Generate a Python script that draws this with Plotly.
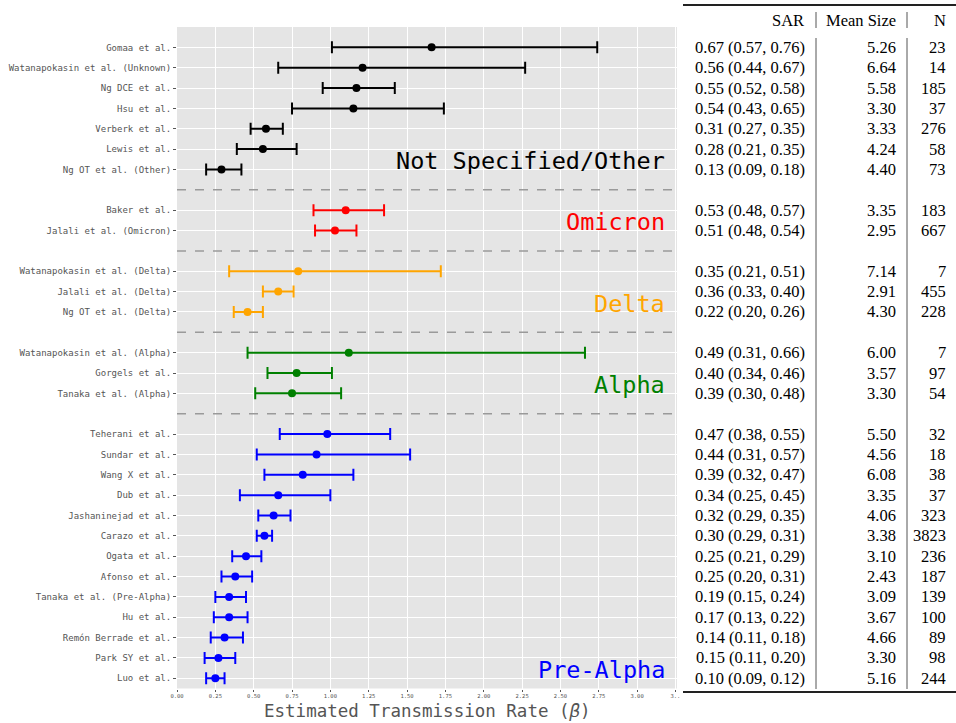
import plotly.graph_objects as go

# ---- study-level estimates -------------------------------------------------
studies = [
    "Gomaa et al.", "Watanapokasin et al. (Unknown)", "Ng DCE et al.", "Hsu et al.",
    "Verberk et al.", "Lewis et al.", "Ng OT et al. (Other)",
    "Baker et al.", "Jalali et al. (Omicron)",
    "Watanapokasin et al. (Delta)", "Jalali et al. (Delta)", "Ng OT et al. (Delta)",
    "Watanapokasin et al. (Alpha)", "Gorgels et al.", "Tanaka et al. (Alpha)",
    "Teherani et al.", "Sundar et al.", "Wang X et al.", "Dub et al.",
    "Jashaninejad et al.", "Carazo et al.", "Ogata et al.", "Afonso et al.",
    "Tanaka et al. (Pre-Alpha)", "Hu et al.", "Remón Berrade et al.",
    "Park SY et al.", "Luo et al.",
]
variant = (["Not Specified/Other"] * 7 + ["Omicron"] * 2 + ["Delta"] * 3
           + ["Alpha"] * 3 + ["Pre-Alpha"] * 13)

beta = [1.66, 1.21, 1.17, 1.15, 0.58, 0.56, 0.29,
        1.10, 1.03,
        0.79, 0.66, 0.46,
        1.12, 0.78, 0.75,
        0.98, 0.91, 0.82, 0.66, 0.63, 0.57, 0.45, 0.38, 0.34, 0.34, 0.31, 0.27, 0.25]
beta_lo = [1.01, 0.66, 0.95, 0.75, 0.48, 0.39, 0.19,
           0.89, 0.90,
           0.34, 0.56, 0.37,
           0.46, 0.59, 0.51,
           0.67, 0.52, 0.57, 0.41, 0.53, 0.52, 0.36, 0.29, 0.25, 0.24, 0.22, 0.18, 0.19]
beta_hi = [2.74, 2.27, 1.42, 1.74, 0.69, 0.78, 0.42,
           1.35, 1.17,
           1.72, 0.76, 0.56,
           2.66, 1.01, 1.07,
           1.39, 1.52, 1.15, 1.00, 0.74, 0.62, 0.55, 0.49, 0.45, 0.46, 0.43, 0.38, 0.31]

sar = ["0.67 (0.57, 0.76)", "0.56 (0.44, 0.67)", "0.55 (0.52, 0.58)", "0.54 (0.43, 0.65)",
       "0.31 (0.27, 0.35)", "0.28 (0.21, 0.35)", "0.13 (0.09, 0.18)",
       "0.53 (0.48, 0.57)", "0.51 (0.48, 0.54)",
       "0.35 (0.21, 0.51)", "0.36 (0.33, 0.40)", "0.22 (0.20, 0.26)",
       "0.49 (0.31, 0.66)", "0.40 (0.34, 0.46)", "0.39 (0.30, 0.48)",
       "0.47 (0.38, 0.55)", "0.44 (0.31, 0.57)", "0.39 (0.32, 0.47)", "0.34 (0.25, 0.45)",
       "0.32 (0.29, 0.35)", "0.30 (0.29, 0.31)", "0.25 (0.21, 0.29)", "0.25 (0.20, 0.31)",
       "0.19 (0.15, 0.24)", "0.17 (0.13, 0.22)", "0.14 (0.11, 0.18)", "0.15 (0.11, 0.20)",
       "0.10 (0.09, 0.12)"]
mean_size = ["5.26", "6.64", "5.58", "3.30", "3.33", "4.24", "4.40",
             "3.35", "2.95",
             "7.14", "2.91", "4.30",
             "6.00", "3.57", "3.30",
             "5.50", "4.56", "6.08", "3.35", "4.06", "3.38", "3.10", "2.43",
             "3.09", "3.67", "4.66", "3.30", "5.16"]
n_hh = ["23", "14", "185", "37", "276", "58", "73",
        "183", "667",
        "7", "455", "228",
        "7", "97", "54",
        "32", "18", "38", "37", "323", "3823", "236", "187",
        "139", "100", "89", "98", "244"]

group_order = ["Not Specified/Other", "Omicron", "Delta", "Alpha", "Pre-Alpha"]
group_colors = {"Not Specified/Other": "#000000", "Omicron": "#ff0000",
                "Delta": "#ffa500", "Alpha": "#008000", "Pre-Alpha": "#0000ff"}

x_ticks = [i * 0.25 for i in range(14)]
x_ticktext = [f"{v:.2f}" for v in x_ticks[:-1]] + ["3.."]

# ---- row layout: one slot per study, a blank slot between variant groups ----
pos, separators = [], []
slot = 0
for i, g in enumerate(variant):
    if i > 0 and g != variant[i - 1]:
        separators.append(slot)
        slot += 1
    pos.append(slot)
    slot += 1

W, H = 956, 723
PLOT_L, PLOT_R, PLOT_T, PLOT_B = 177, 677, 27, 688.5


def px(x):
    return x / W


def py(y):
    return 1 - y / H


fig = go.Figure()

for g in group_order:
    idx = [i for i, v in enumerate(variant) if v == g]
    fig.add_trace(go.Scatter(
        x=[beta[i] for i in idx],
        y=[pos[i] for i in idx],
        mode="markers",
        marker=dict(color=group_colors[g], size=8),
        error_x=dict(type="data", symmetric=False,
                     array=[beta_hi[i] - beta[i] for i in idx],
                     arrayminus=[beta[i] - beta_lo[i] for i in idx],
                     color=group_colors[g], thickness=2, width=6),
        showlegend=False,
        hoverinfo="skip",
    ))

shapes = []
for s in separators:
    shapes.append(dict(type="line", xref="x domain", yref="y", x0=0, x1=1, y0=s, y1=s,
                       line=dict(color="#9a9a9a", width=1.5, dash="dash"), layer="above"))

annotations = []
# variant group names inside the plot, right-aligned
for g in group_order:
    last = max(pos[i] for i, v in enumerate(variant) if v == g)
    annotations.append(dict(xref="x domain", yref="y", x=0.98, y=last - 0.4,
                            xanchor="right", yanchor="middle", showarrow=False,
                            text=g, font=dict(family="DejaVu Sans Mono", size=23.5,
                                              color=group_colors[g])))

# axis title
annotations.append(dict(xref="paper", yref="paper", x=px((PLOT_L + PLOT_R) / 2), y=py(711),
                        xanchor="center", yanchor="middle", showarrow=False,
                        text="Estimated Transmission Rate (<i>β</i>)",
                        font=dict(family="DejaVu Sans Mono", size=17.5, color="#555555")))

# ---- side table: SAR | Mean Size | N -----------------------------------------
tfont = dict(family="Liberation Serif", size=16.5, color="#000000")
col_right = [807, 898, 948]
header = [("SAR", 806), ("Mean Size", 898), ("N", 948)]
for txt, xr in header:
    annotations.append(dict(xref="paper", yref="paper", x=px(xr), y=py(20),
                            xanchor="right", yanchor="middle", showarrow=False,
                            text=txt, font=tfont))
for i in range(len(studies)):
    for col, xr in zip((sar[i], mean_size[i], n_hh[i]), col_right):
        annotations.append(dict(xref="paper", yref="y", x=px(xr), y=pos[i],
                                xanchor="right", yanchor="middle", showarrow=False,
                                text=col, font=tfont))

rule = dict(color="#222222", width=2)
sep_line = dict(color="#555555", width=1)
shapes += [
    dict(type="line", xref="paper", yref="paper", x0=px(683), x1=1, y0=py(5), y1=py(5), line=rule),
    dict(type="line", xref="paper", yref="paper", x0=px(683), x1=1, y0=py(692), y1=py(692), line=rule),
]
for xv in (816, 907):
    # header separator and body column separator
    shapes.append(dict(type="line", xref="paper", yref="paper", x0=px(xv), x1=px(xv),
                       y0=py(12), y1=py(28), line=sep_line))
    shapes.append(dict(type="line", xref="paper", yref="paper", x0=px(xv), x1=px(xv),
                       y0=py(38), y1=py(689), line=sep_line))

fig.update_layout(
    width=W, height=H,
    margin=dict(l=0, r=0, t=0, b=0),
    paper_bgcolor="white",
    plot_bgcolor="#e5e5e5",
    shapes=shapes,
    annotations=annotations,
    xaxis=dict(domain=[px(PLOT_L), px(PLOT_R)], range=[0, 3.26],
               tickvals=x_ticks, ticktext=x_ticktext,
               tickfont=dict(family="DejaVu Sans Mono", size=5.5, color="#555555"),
               ticks="outside", ticklen=2, tickcolor="#555555",
               showgrid=True, gridcolor="white", gridwidth=1,
               zeroline=False, showline=False, automargin=False, fixedrange=True),
    yaxis=dict(domain=[py(PLOT_B), py(PLOT_T)], range=[31.5, -1],
               tickvals=pos, ticktext=studies,
               tickfont=dict(family="DejaVu Sans Mono", size=9, color="#555555"),
               ticks="outside", ticklen=3, tickcolor="#555555",
               showgrid=True, gridcolor="white", gridwidth=1,
               zeroline=False, showline=False, automargin=False, fixedrange=True),
)

fig.write_html("out.html")
